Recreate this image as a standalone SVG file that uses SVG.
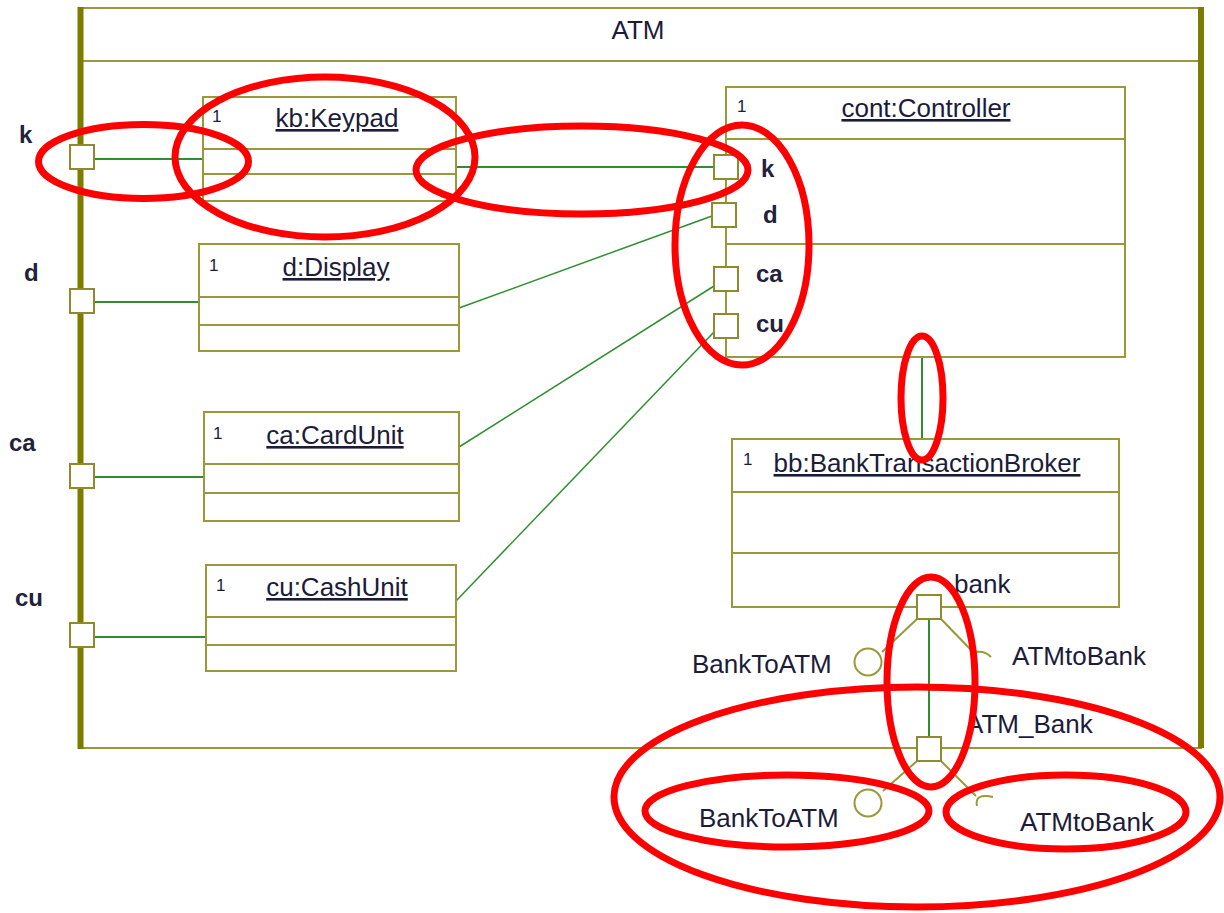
<svg xmlns="http://www.w3.org/2000/svg" width="1224" height="913" viewBox="0 0 1224 913">
  <style>
    text { font-family: "Liberation Sans", Arial, sans-serif; fill: #1c1c3a; }
    .lbl { font-size: 26px; }
    .port-lbl { font-size: 24px; font-weight: bold; fill: #22223a; }
    .title { font-size: 26px; text-anchor: middle; text-decoration: underline; }
    .mult { font-size: 17px; }
    .box { fill: #ffffff; stroke: #99993a; stroke-width: 2; }
    .sep { stroke: #99993a; stroke-width: 2; }
    .edge { stroke: #7c7c00; stroke-width: 6; }
    .port { fill: #ffffff; stroke: #8c8c2c; stroke-width: 2; }
    .wire { stroke: #2f8f2f; stroke-width: 2; fill: none; }
    .wire-thin { stroke: #2f8f2f; stroke-width: 1.5; fill: none; }
    .iface { stroke: #99993a; stroke-width: 2; fill: none; }
    .mark { fill: none; stroke: #ff0000; stroke-width: 7; }
  </style>

  <!-- ATM structured class frame -->
  <g id="atm">
    <rect x="80" y="8" width="1121" height="740" fill="#ffffff" stroke="#99993a" stroke-width="2"/>
    <line class="sep" x1="80" y1="61" x2="1201" y2="61"/>
    <line class="edge" x1="80.5" y1="7" x2="80.5" y2="749"/>
    <line class="edge" x1="1201" y1="7" x2="1201" y2="748"/>
    <text class="lbl" x="638" y="39" text-anchor="middle">ATM</text>
  </g>

  <!-- Connectors -->
  <g id="connectors">
    <line class="wire" x1="94" y1="159" x2="203" y2="159"/>
    <line class="wire" x1="94" y1="302" x2="199" y2="302"/>
    <line class="wire" x1="94" y1="477" x2="204" y2="477"/>
    <line class="wire" x1="94" y1="637" x2="206" y2="637"/>
    <line class="wire" x1="456" y1="167" x2="714" y2="167"/>
    <line class="wire-thin" x1="459" y1="308" x2="712" y2="216"/>
    <line class="wire-thin" x1="459" y1="447" x2="714" y2="286"/>
    <line class="wire-thin" x1="456" y1="601" x2="714" y2="332"/>
    <line class="wire" x1="922" y1="357" x2="922" y2="438"/>
    <line class="wire" x1="929" y1="619" x2="929" y2="737"/>
  </g>

  <!-- Boundary ports of ATM -->
  <g id="atm-ports">
    <rect class="port" x="70" y="145" width="24" height="24"/>
    <rect class="port" x="70" y="289" width="24" height="24"/>
    <rect class="port" x="70" y="464" width="24" height="24"/>
    <rect class="port" x="70" y="623" width="24" height="24"/>
    <text class="port-lbl" x="19" y="143">k</text>
    <text class="port-lbl" x="24" y="281">d</text>
    <text class="port-lbl" x="9" y="451">ca</text>
    <text class="port-lbl" x="15" y="606">cu</text>
  </g>

  <g id="keypad">
    <rect class="box" x="203" y="97" width="253" height="104"/>
    <line class="sep" x1="203" y1="149" x2="456" y2="149"/>
    <line class="sep" x1="203" y1="174" x2="456" y2="174"/>
    <text class="mult" x="212" y="122">1</text>
    <text class="title" x="337" y="127">kb:Keypad</text>
  </g>

  <g id="display">
    <rect class="box" x="199" y="244" width="260" height="107"/>
    <line class="sep" x1="199" y1="297" x2="459" y2="297"/>
    <line class="sep" x1="199" y1="325" x2="459" y2="325"/>
    <text class="mult" x="209" y="271">1</text>
    <text class="title" x="336" y="276">d:Display</text>
  </g>

  <g id="cardunit">
    <rect class="box" x="204" y="412" width="255" height="109"/>
    <line class="sep" x1="204" y1="464" x2="459" y2="464"/>
    <line class="sep" x1="204" y1="493" x2="459" y2="493"/>
    <text class="mult" x="213" y="439">1</text>
    <text class="title" x="335" y="444">ca:CardUnit</text>
  </g>

  <g id="cashunit">
    <rect class="box" x="206" y="565" width="250" height="106"/>
    <line class="sep" x1="206" y1="617" x2="456" y2="617"/>
    <line class="sep" x1="206" y1="645" x2="456" y2="645"/>
    <text class="mult" x="216" y="591">1</text>
    <text class="title" x="337" y="596">cu:CashUnit</text>
  </g>

  <g id="controller">
    <rect class="box" x="726" y="87" width="399" height="270"/>
    <line class="sep" x1="726" y1="139" x2="1125" y2="139"/>
    <line class="sep" x1="726" y1="244" x2="1125" y2="244"/>
    <text class="mult" x="737" y="112">1</text>
    <text class="title" x="926" y="117">cont:Controller</text>
    <rect class="port" x="714" y="155" width="24" height="24"/>
    <rect class="port" x="712" y="203" width="24" height="24"/>
    <rect class="port" x="714" y="267" width="24" height="24"/>
    <rect class="port" x="714" y="314" width="24" height="24"/>
    <text class="port-lbl" x="761" y="177">k</text>
    <text class="port-lbl" x="763" y="223">d</text>
    <text class="port-lbl" x="756" y="282">ca</text>
    <text class="port-lbl" x="756" y="332">cu</text>
  </g>

  <g id="broker">
    <rect class="box" x="732" y="439" width="387" height="168"/>
    <line class="sep" x1="732" y1="492" x2="1119" y2="492"/>
    <line class="sep" x1="732" y1="553" x2="1119" y2="553"/>
    <text class="mult" x="743" y="465">1</text>
    <text class="title" x="927" y="472">bb:BankTransactionBroker</text>
    <text class="lbl" x="954" y="593">bank</text>
  </g>

  <!-- bank port with provided / required interfaces -->
  <g id="bank-port">
    <line class="iface" x1="917" y1="619" x2="882" y2="652"/>
    <circle class="iface" cx="868" cy="662" r="13.5"/>
    <line class="iface" x1="941" y1="619" x2="972" y2="651"/>
    <path class="iface" d="M971,653 Q984,649 991,657"/>
    <rect class="port" x="917" y="595" width="24" height="24"/>
    <text class="lbl" x="692" y="673">BankToATM</text>
    <text class="lbl" x="1012" y="665">ATMtoBank</text>
  </g>

  <!-- ATM_Bank boundary port -->
  <g id="atm-bank-port">
    <line class="iface" x1="917" y1="761" x2="883" y2="791"/>
    <circle class="iface" cx="868" cy="803" r="13.5"/>
    <line class="iface" x1="941" y1="761" x2="976" y2="796"/>
    <path class="iface" d="M977,806 Q974,793 993,797"/>
    <rect class="port" x="917" y="737" width="24" height="24"/>
    <text class="lbl" x="966" y="733">ATM_Bank</text>
    <text class="lbl" x="699" y="827">BankToATM</text>
    <text class="lbl" x="1020" y="831">ATMtoBank</text>
  </g>

  <!-- Highlight rings -->
  <g id="highlights">
    <ellipse class="mark" cx="143.5" cy="161.5" rx="105" ry="37"/>
    <ellipse class="mark" cx="325" cy="157" rx="150" ry="80"/>
    <ellipse class="mark" cx="582" cy="170" rx="166" ry="44"/>
    <ellipse class="mark" cx="742" cy="245" rx="67" ry="120"/>
    <ellipse class="mark" cx="922" cy="398" rx="21" ry="62"/>
    <ellipse class="mark" cx="931" cy="682" rx="44" ry="105"/>
    <ellipse class="mark" cx="917" cy="797" rx="303" ry="110"/>
    <ellipse class="mark" cx="787" cy="811" rx="142" ry="36"/>
    <ellipse class="mark" cx="1066" cy="812" rx="120" ry="37"/>
  </g>
</svg>
